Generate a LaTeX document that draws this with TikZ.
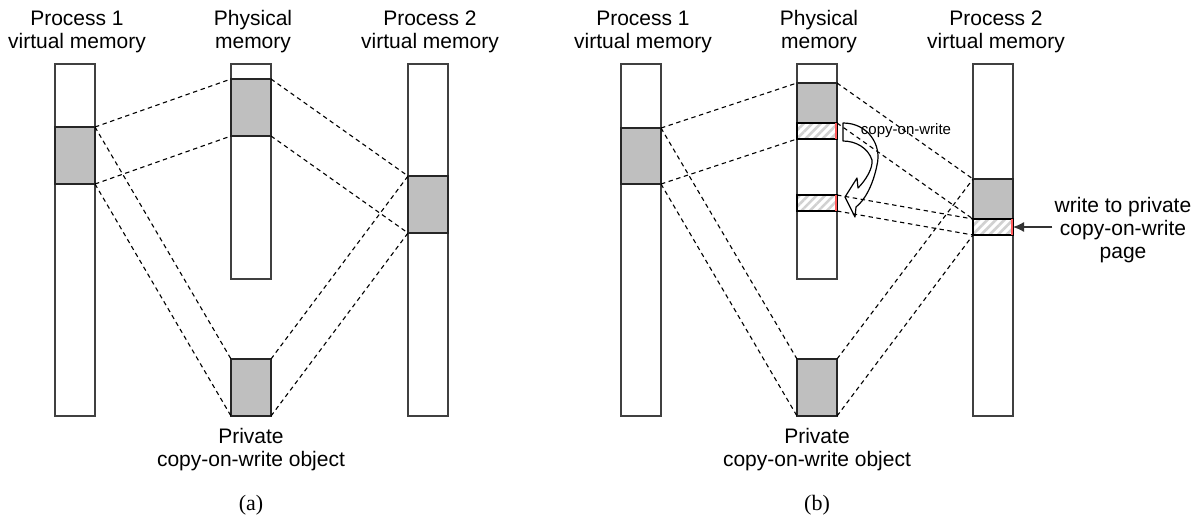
\documentclass[tikz,border=0pt]{standalone}
\usepackage{fontspec}
\setmainfont{Liberation Serif}
\setsansfont{Liberation Sans}
\usetikzlibrary{arrows.meta,patterns.meta}

\begin{document}
\begin{tikzpicture}[x=0.5pt, y=-0.5pt,
    col/.style={draw=black!75, line width=0.6pt, fill=white, minimum width=20pt, inner sep=0pt, outer sep=0pt},
    page/.style={draw=black!85, line width=0.7pt, fill=black!25, minimum width=20pt, inner sep=0pt, outer sep=0pt},
    cow/.style={draw=black, line width=0.8pt, pattern={Lines[angle=45,distance=3pt,line width=1.3pt]}, pattern color=black!18, minimum width=20pt, minimum height=8pt, inner sep=0pt, outer sep=0pt},
    link/.style={line width=0.55pt, dash pattern=on 2.2pt off 1.8pt},
    lbl/.style={font=\sffamily\fontsize{10.5}{11.5}\selectfont, align=center, inner sep=1pt},
    captxt/.style={font=\fontsize{11}{13}\selectfont}]
    \useasboundingbox (0,0) rectangle (1204,520);

    % (a) columns and pages
    \node[col, minimum height=176pt] (p1a) at (75,240) {};
    \node[col, minimum height=107.5pt] (pma) at (251,171.5) {};
    \node[col, minimum height=176pt] (p2a) at (428,240) {};
    \node[page, minimum height=28.5pt] (s1a) at (75,155.5) {};
    \node[page, minimum height=28.5pt] (sma) at (251,107.5) {};
    \node[page, minimum height=28.5pt] (s2a) at (428,204.5) {};
    \node[page, minimum height=28.5pt] (obja) at (251,387.5) {};

    \node[lbl] (t1a) at (77,32) {Process 1\\virtual memory};
    \node[lbl] (tma) at (253,32) {Physical\\memory};
    \node[lbl] (t2a) at (430,32) {Process 2\\virtual memory};
    \node[lbl] (toa) at (251,450) {Private\\copy-on-write object};
    \node[captxt] (capa) at (251,505) {(a)};

    % (a) mappings
    \draw[link] (s1a.north east) -- (sma.north west);
    \draw[link] (s1a.south east) -- (sma.south west);
    \draw[link] (sma.north east) -- (s2a.north west);
    \draw[link] (sma.south east) -- (s2a.south west);
    \draw[link] (s1a.north east) -- (obja.north west);
    \draw[link] (s1a.south east) -- (obja.south west);
    \draw[link] (obja.north east) -- (s2a.north west);
    \draw[link] (obja.south east) -- (s2a.south west);

    % (b) columns and pages
    \node[col, minimum height=176pt] (p1b) at (641,240) {};
    \node[col, minimum height=107.5pt] (pmb) at (817,171.5) {};
    \node[col, minimum height=176pt] (p2b) at (993,240) {};
    \node[page, minimum height=28pt] (s1b) at (641,156) {};
    \node[page, minimum height=20pt] (smb) at (817,103) {};
    \node[cow] (h1b) at (817,131) {};
    \node[cow] (h2b) at (817,203) {};
    \node[page, minimum height=20pt] (s2b) at (993,199) {};
    \node[cow] (h3b) at (993,227) {};
    \node[page, minimum height=28.5pt] (objb) at (817,387.5) {};
    \foreach \h in {h1b,h2b,h3b}
        \draw[red!65, line width=1pt] ([xshift=-0.6pt]\h.north east) -- ([xshift=-0.6pt]\h.south east);

    \node[lbl] (t1b) at (643,32) {Process 1\\virtual memory};
    \node[lbl] (tmb) at (819,32) {Physical\\memory};
    \node[lbl] (t2b) at (996,32) {Process 2\\virtual memory};
    \node[lbl] (tob) at (817,450) {Private\\copy-on-write object};
    \node[captxt] (capb) at (817,505) {(b)};

    % copy-on-write arrow
    \draw[line width=0.6pt, line join=round] (843,123) .. controls (868,123) and (882,145) .. (877,165)
        .. controls (873,185) and (865,200) .. (856,207) -- (855,217) -- (845,197) -- (857,178) -- (858,188)
        .. controls (866,180) and (873,168) .. (872,160) .. controls (868,148) and (856,141) .. (843,141) -- cycle;
    \node[font=\sffamily\fontsize{7.5}{9}\selectfont] (cowl) at (906,131) {copy-on-write};

    % (b) mappings
    \draw[link] (s1b.north east) -- (smb.north west);
    \draw[link] (s1b.south east) -- (h1b.south west);
    \draw[link] (smb.north east) -- (s2b.north west);
    \draw[link] (h1b.north east) -- (s2b.south west);
    \draw[link] (h2b.north east) -- (h3b.north west);
    \draw[link] (h2b.south east) -- (h3b.south west);
    \draw[link] (s1b.north east) -- (objb.north west);
    \draw[link] (s1b.south east) -- (objb.south west);
    \draw[link] (objb.north east) -- (s2b.north west);
    \draw[link] (objb.south east) -- (h3b.south west);

    % write note
    \node[lbl] (wl) at (1123,230) {write to private\\copy-on-write\\page};
    \draw[-{Latex[length=5.5pt,width=5pt]}, line width=0.6pt, black!80] (h3b.east -| wl.west) -- (h3b.east);
\end{tikzpicture}
\end{document}
